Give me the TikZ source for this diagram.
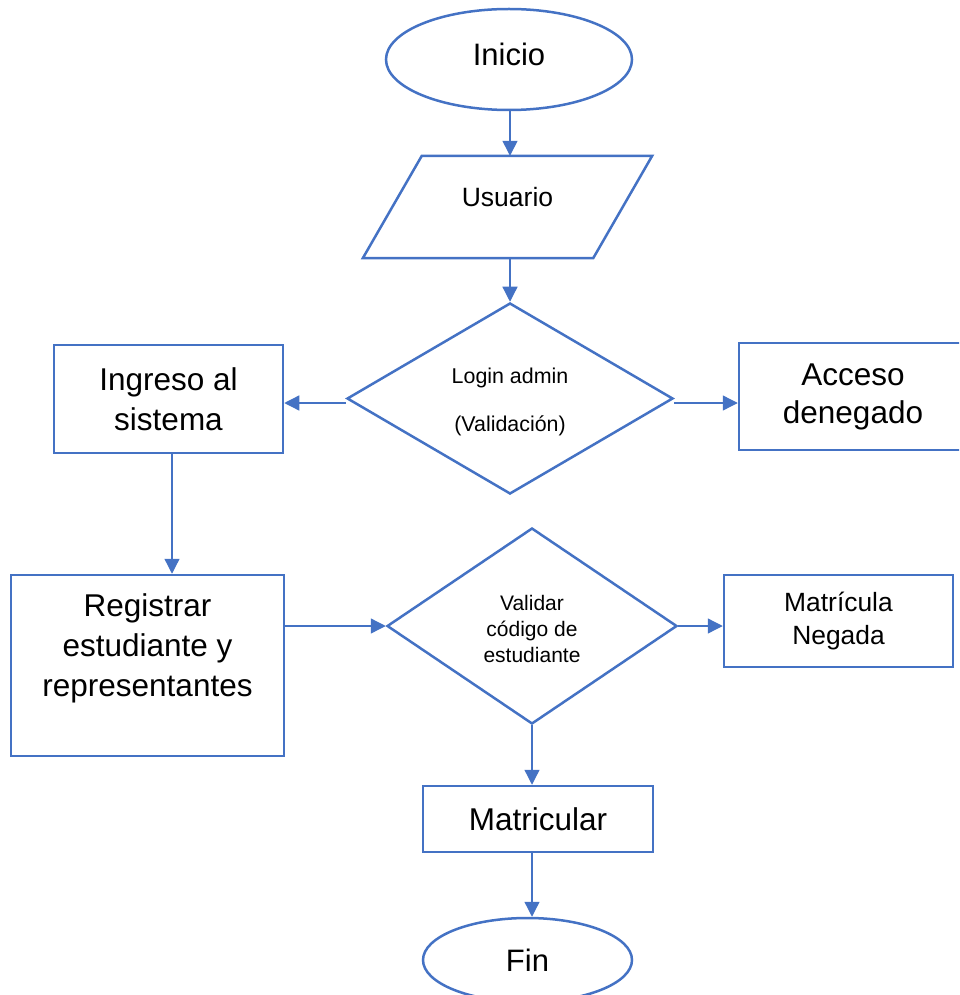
\documentclass[tikz,border=0pt]{standalone}
\usepackage{fontspec}
\setmainfont{Liberation Sans}
\usetikzlibrary{shapes.geometric,arrows.meta}
\definecolor{flowblue}{HTML}{4472C4}

\begin{document}
\begin{tikzpicture}[x=1pt,y=-1pt,
    shp/.style={draw=flowblue,line width=2.5pt,inner sep=0pt,align=center},
    term/.style={shp,ellipse,font=\fontsize{31}{40}\selectfont},
    proc/.style={shp,rectangle,font=\fontsize{31.5}{40}\selectfont},
    dec/.style={shp,diamond},
    arr/.style={draw=flowblue,line width=1.3pt,-{Triangle[length=15pt,width=15pt]}}]
\clip (0,0) rectangle (959,995);

\node (ini) [term,minimum width=246pt,minimum height=101pt,text depth=10pt]
    at (509,59.5) {Inicio};
\node (us) [inner sep=0pt,minimum width=230pt,minimum height=102pt,text depth=20pt,
    font=\fontsize{26.5}{30}\selectfont] at (507.5,207) {Usuario};
\draw[flowblue,line width=2.5pt] ([xshift=-29.5pt]us.south west)
    -- ([xshift=29.5pt]us.north west) -- ([xshift=29.5pt]us.north east)
    -- ([xshift=-29.5pt]us.south east) -- cycle;
\node (la) [dec,minimum width=326pt,minimum height=191pt,text height=70pt,
    font=\fontsize{21.4}{48}\selectfont] at (510,398.5) {Login admin\\(Validación)};
\node (ia) [proc,minimum width=229pt,minimum height=108pt]
    at (168.5,399) {Ingreso al\\sistema};
\node (ad) [proc,minimum width=228pt,minimum height=107pt,
    font=\fontsize{31.5}{38}\selectfont] at (853,396.5) {Acceso\\denegado};
\node (re) [proc,minimum width=273pt,minimum height=181pt,text depth=40pt]
    at (147.5,665.5) {Registrar\\estudiante y\\representantes};
\node (vc) [dec,minimum width=290pt,minimum height=196pt,text height=73pt,
    font=\fontsize{21}{26}\selectfont] at (532,626) {Validar\\código de\\estudiante};
\node (mn) [proc,minimum width=229pt,minimum height=92pt,
    font=\fontsize{26.4}{33}\selectfont] at (838.5,621) {Matrícula\\Negada};
\node (ma) [proc,minimum width=230pt,minimum height=66pt]
    at (538,819) {Matricular};
\node (fin) [term,minimum width=209pt,minimum height=84pt]
    at (527.5,960) {Fin};

\draw[arr] ([xshift=1pt]ini.south) -- ([xshift=1pt]ini.south |- us.north);
\draw[arr] ([xshift=1pt]ini.south |- us.south) -- ([xshift=1pt]ini.south |- la.north);
\draw[arr] ([yshift=-4.5pt]la.west) -- ([yshift=-4.5pt]la.west -| ia.east);
\draw[arr] ([yshift=-4.5pt]la.east) -- ([yshift=-4.5pt]la.east -| ad.west);
\draw[arr] ([xshift=3.5pt]ia.south) -- ([xshift=3.5pt]ia.south |- re.north);
\draw[arr] (vc.west -| re.east) -- (vc.west);
\draw[arr] (vc.east) -- (vc.east -| mn.west);
\draw[arr] (vc.south) -- (vc.south |- ma.north);
\draw[arr] (vc.south |- ma.south) -- (vc.south |- fin.north);
\end{tikzpicture}
\end{document}
